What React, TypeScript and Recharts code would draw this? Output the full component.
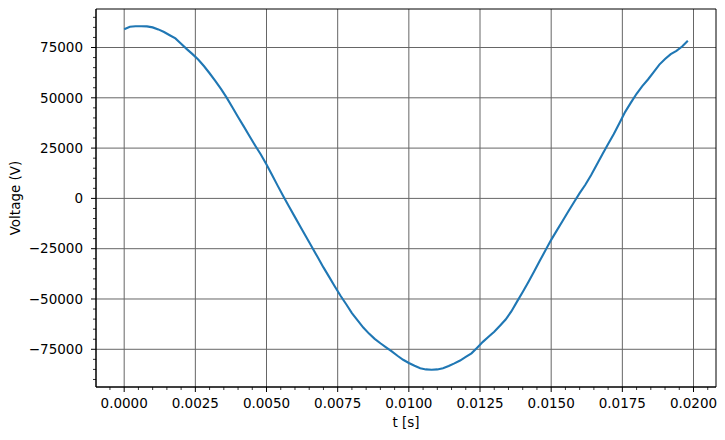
import React from 'react';
import { LineChart, Line, XAxis, YAxis, CartesianGrid, ReferenceArea } from 'recharts';

// time samples (s), every 0.2 ms
const TIME = [
  0.0, 0.0002, 0.0004, 0.0006, 0.0008, 0.001, 0.0012, 0.0014, 0.0016, 0.0018,
  0.002, 0.0022, 0.0024, 0.0026, 0.0028, 0.003, 0.0032, 0.0034, 0.0036, 0.0038,
  0.004, 0.0042, 0.0044, 0.0046, 0.0048, 0.005, 0.0052, 0.0054, 0.0056, 0.0058,
  0.006, 0.0062, 0.0064, 0.0066, 0.0068, 0.007, 0.0072, 0.0074, 0.0076, 0.0078,
  0.008, 0.0082, 0.0084, 0.0086, 0.0088, 0.009, 0.0092, 0.0094, 0.0096, 0.0098,
  0.01, 0.0102, 0.0104, 0.0106, 0.0108, 0.011, 0.0112, 0.0114, 0.0116, 0.0118,
  0.012, 0.0122, 0.0124, 0.0126, 0.0128, 0.013, 0.0132, 0.0134, 0.0136, 0.0138,
  0.014, 0.0142, 0.0144, 0.0146, 0.0148, 0.015, 0.0152, 0.0154, 0.0156, 0.0158,
  0.016, 0.0162, 0.0164, 0.0166, 0.0168, 0.017, 0.0172, 0.0174, 0.0176, 0.0178,
  0.018, 0.0182, 0.0184, 0.0186, 0.0188, 0.019, 0.0192, 0.0194, 0.0196, 0.0198,
];

// voltage (V)
const VOLTAGE = [
  84100, 85300, 85600, 85600, 85500, 85000, 84000, 82700, 81100, 79500,
  76900, 74200, 71700, 69000, 65800, 62200, 58400, 54400, 50100, 45300,
  40500, 35800, 31000, 26300, 21800, 16900, 11500, 6100, 800, -4300,
  -9300, -14300, -19300, -24300, -29300, -34300, -39000, -43800, -48400, -52600,
  -57000, -60600, -64200, -67200, -69800, -72000, -74000, -76000, -78200, -80200,
  -81800, -83200, -84400, -85000, -85200, -85000, -84400, -83300, -82000, -80600,
  -78800, -77000, -74200, -71300, -68800, -66300, -63300, -60200, -56200, -51300,
  -46500, -41500, -36300, -31000, -25800, -20600, -15900, -11200, -6500, -1900,
  2600, 6800, 11500, 16700, 22000, 27000, 32000, 37500, 43000, 47600,
  52000, 55800, 59100, 62800, 66500, 69300, 71700, 73300, 75500, 78300,
];

const X_TICKS = [0, 0.0025, 0.005, 0.0075, 0.01, 0.0125, 0.015, 0.0175, 0.02];
const X_MINOR_TICKS = [
  -0.0005, 0, 0.0005, 0.001, 0.0015, 0.002, 0.0025, 0.003, 0.0035, 0.004, 0.0045,
  0.005, 0.0055, 0.006, 0.0065, 0.007, 0.0075, 0.008, 0.0085, 0.009, 0.0095,
  0.01, 0.0105, 0.011, 0.0115, 0.012, 0.0125, 0.013, 0.0135, 0.014, 0.0145,
  0.015, 0.0155, 0.016, 0.0165, 0.017, 0.0175, 0.018, 0.0185, 0.019, 0.0195,
  0.02, 0.0205,
];
const Y_TICKS = [-75000, -50000, -25000, 0, 25000, 50000, 75000];
const Y_MINOR_TICKS = [
  -90000, -85000, -80000, -75000, -70000, -65000, -60000, -55000, -50000, -45000,
  -40000, -35000, -30000, -25000, -20000, -15000, -10000, -5000, 0, 5000, 10000,
  15000, 20000, 25000, 30000, 35000, 40000, 45000, 50000, 55000, 60000, 65000,
  70000, 75000, 80000, 85000, 90000,
];

const X_DOMAIN = [-0.00099, 0.02079];
const Y_DOMAIN = [-93740, 94140];

const data = TIME.map((t, i) => ({ t, v: VOLTAGE[i] }));

const FONT = 'DejaVu Sans, sans-serif';
const FONT_SIZE = 13.5;

const isMajor = (v: number, list: number[]) => list.some((m) => Math.abs(m - v) < 1e-9 * (Math.abs(m) + 1));
const fmtY = (v: number) => (v < 0 ? '\u2212' + Math.abs(v) : String(v));

const XTick = (props: any) => {
  const { x, y, payload } = props;
  const v = payload.value;
  const major = isMajor(v, X_TICKS);
  return (
    <g>
      <line x1={x} x2={x} y1={y} y2={y + (major ? 5 : 3)} stroke="#000" strokeWidth={major ? 1 : 0.8} />
      {major && (
        <text x={x} y={y + 11} dy="0.71em" textAnchor="middle" fill="#000" fontSize={FONT_SIZE} fontFamily={FONT}>
          {v.toFixed(4)}
        </text>
      )}
    </g>
  );
};

const YTick = (props: any) => {
  const { x, y, payload } = props;
  const v = payload.value;
  const major = isMajor(v, Y_TICKS);
  return (
    <g>
      <line x1={x - (major ? 5 : 3)} x2={x} y1={y} y2={y} stroke="#000" strokeWidth={major ? 1 : 0.8} />
      {major && (
        <text x={x - 13} y={y} dy="0.355em" textAnchor="end" fill="#000" fontSize={FONT_SIZE} fontFamily={FONT}>
          {fmtY(v)}
        </text>
      )}
    </g>
  );
};

export default function App() {
  return (
    <div style={{ position: 'absolute', left: 0, top: 0, background: '#fff' }}>
      <LineChart width={725} height={440} data={data} margin={{ top: 9, right: 9, bottom: 0, left: 0 }}>
        <XAxis
          type="number"
          dataKey="t"
          domain={X_DOMAIN}
          allowDataOverflow
          ticks={X_MINOR_TICKS}
          interval={0}
          height={53}
          tickSize={0}
          tickMargin={0}
          tickLine={false}
          tick={<XTick />}
          axisLine={{ stroke: '#000', strokeWidth: 1 }}
          label={{ value: 't [s]', position: 'insideBottom', offset: 13, fill: '#000', fontSize: FONT_SIZE, fontFamily: FONT }}
        />
        <YAxis
          type="number"
          domain={Y_DOMAIN}
          allowDataOverflow
          ticks={Y_MINOR_TICKS}
          interval={0}
          width={96}
          tickSize={0}
          tickMargin={0}
          tickLine={false}
          tick={<YTick />}
          axisLine={{ stroke: '#000', strokeWidth: 1 }}
          label={{
            value: 'Voltage (V)',
            angle: -90,
            position: 'insideLeft',
            offset: 15.5,
            fill: '#000',
            fontSize: FONT_SIZE,
            fontFamily: FONT,
            style: { textAnchor: 'middle' },
          }}
        />
        <CartesianGrid stroke="#666666" strokeWidth={1} verticalValues={X_TICKS} horizontalValues={Y_TICKS} />
        <Line type="linear" dataKey="v" stroke="#1f77b4" strokeWidth={2.1} dot={false} isAnimationActive={false} />
        <ReferenceArea
          x1={X_DOMAIN[0]}
          x2={X_DOMAIN[1]}
          y1={Y_DOMAIN[0]}
          y2={Y_DOMAIN[1]}
          fill="none"
          stroke="#000"
          strokeWidth={1}
          ifOverflow="visible"
        />
      </LineChart>
    </div>
  );
}
